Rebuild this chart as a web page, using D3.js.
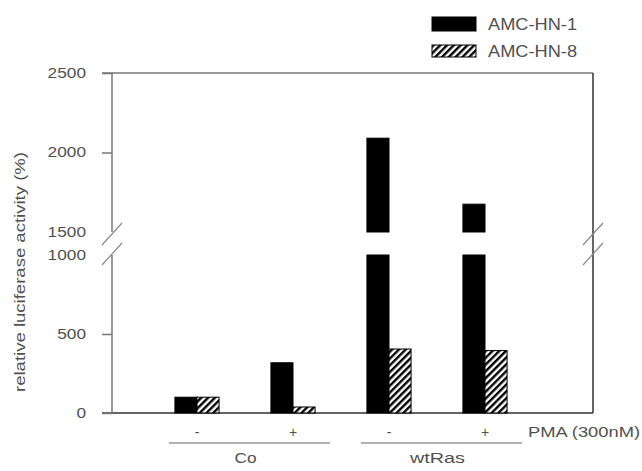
<!DOCTYPE html>
<html>
<head>
<meta charset="utf-8">
<script src="https://cdn.jsdelivr.net/npm/d3@7"></script>
<style>
  body { margin: 0; background: #fff; }
  text { font-family: "Liberation Sans", Arial, sans-serif; fill: #505050; }
</style>
</head>
<body>
<svg id="chart" width="642" height="471"></svg>
<script>
// data
var conditions = ['Co-', 'Co+', 'wtRas-', 'wtRas+'];
var pmaLabels = ['-', '+', '-', '+'];
var cellLines = ['AMC-HN-1', 'AMC-HN-8'];
var hn1Values = [100, 318, 2090, 1675];
var hn8Values = [100, 38, 405, 395];
var lowTicks = [0, 500, 1000];
var highTicks = [1500, 2000, 2500];
var groups = [
  { name: 'Co', members: ['Co-', 'Co+'] },
  { name: 'wtRas', members: ['wtRas-', 'wtRas+'] }
];

var svg = d3.select('#chart');

var plotLeft = 112, plotRight = 593, plotBottom = 413, plotTop = 73;

// broken y axis: two linear pieces
var yLow = d3.scaleLinear().domain([0, 1000]).range([plotBottom, 255]);
var yHigh = d3.scaleLinear().domain([1500, 2500]).range([232, plotTop]);

var x = d3.scaleBand()
  .domain(conditions)
  .range([149, 533])
  .paddingInner(0.54)
  .paddingOuter(0.27);

var xSub = d3.scaleBand()
  .domain(cellLines)
  .range([0, x.bandwidth()]);

// hatch pattern for AMC-HN-8
var defs = svg.append('defs');
defs.append('pattern')
  .attr('id', 'hatch')
  .attr('patternUnits', 'userSpaceOnUse')
  .attr('width', 4.8)
  .attr('height', 4.8)
  .attr('patternTransform', 'rotate(45)')
  .call(function (p) {
    p.append('rect').attr('width', 4.8).attr('height', 4.8).attr('fill', '#fff');
    p.append('rect').attr('width', 2.4).attr('height', 4.8).attr('fill', '#000');
  });

// frame
svg.append('line')
  .attr('x1', plotLeft - 10).attr('x2', plotRight)
  .attr('y1', plotTop).attr('y2', plotTop)
  .attr('stroke', '#777').attr('stroke-width', 1.5);
svg.append('line')
  .attr('x1', plotRight).attr('x2', plotRight)
  .attr('y1', plotTop).attr('y2', plotBottom)
  .attr('stroke', '#333').attr('stroke-width', 1.5);
svg.append('line')
  .attr('x1', plotLeft - 10).attr('x2', plotRight)
  .attr('y1', plotBottom).attr('y2', plotBottom)
  .attr('stroke', '#333').attr('stroke-width', 1.5);

// left axis line, broken between the two pieces
svg.append('line')
  .attr('x1', plotLeft).attr('x2', plotLeft)
  .attr('y1', plotTop).attr('y2', yHigh(1500))
  .attr('stroke', '#777').attr('stroke-width', 1.5);
svg.append('line')
  .attr('x1', plotLeft).attr('x2', plotLeft)
  .attr('y1', yLow(1000)).attr('y2', plotBottom)
  .attr('stroke', '#777').attr('stroke-width', 1.5);

function styleAxis(g, hideTick) {
  g.select('.domain').remove();
  g.selectAll('.tick line')
    .attr('stroke', '#777').attr('stroke-width', 1.5)
    .filter(function (d) { return d === hideTick; }).remove();
  g.selectAll('.tick text')
    .style('font-family', '"Liberation Sans", Arial, sans-serif')
    .style('font-size', '14px')
    .attr('fill', '#505050')
    .attr('textLength', function (d) { return String(d).length * 9.6; })
    .attr('lengthAdjust', 'spacingAndGlyphs');
}

svg.append('g')
  .attr('transform', 'translate(' + plotLeft + ',0)')
  .call(d3.axisLeft(yLow).tickValues(lowTicks).tickSize(10).tickPadding(16).tickFormat(d3.format('d')))
  .call(styleAxis, 1000);

svg.append('g')
  .attr('transform', 'translate(' + plotLeft + ',0)')
  .call(d3.axisLeft(yHigh).tickValues(highTicks).tickSize(10).tickPadding(16).tickFormat(d3.format('d')))
  .call(styleAxis, 1500);

// break marks on both vertical sides
[plotLeft, plotRight].forEach(function (bx) {
  [yHigh(1500) + 2, yLow(1000) - 1].forEach(function (by) {
    svg.append('line')
      .attr('x1', bx - 10).attr('y1', by + 11)
      .attr('x2', bx + 10).attr('y2', by - 11)
      .attr('stroke', '#888').attr('stroke-width', 1.2);
  });
});

// bars
var barData = [];
conditions.forEach(function (c, i) {
  barData.push({ cond: c, line: cellLines[0], value: hn1Values[i] });
  barData.push({ cond: c, line: cellLines[1], value: hn8Values[i] });
});

var segments = [];
barData.forEach(function (d) {
  if (d.value <= 1000) {
    segments.push({ d: d, y0: yLow(0), y1: yLow(d.value) });
  } else {
    segments.push({ d: d, y0: yLow(0), y1: yLow(1000) });
    segments.push({ d: d, y0: yHigh(1500), y1: yHigh(d.value) });
  }
});

svg.append('g').selectAll('rect')
  .data(segments)
  .join('rect')
  .attr('x', function (s) { return x(s.d.cond) + xSub(s.d.line); })
  .attr('width', xSub.bandwidth())
  .attr('y', function (s) { return s.y1; })
  .attr('height', function (s) { return s.y0 - s.y1; })
  .attr('fill', function (s) { return s.d.line === cellLines[0] ? '#000' : 'url(#hatch)'; })
  .attr('stroke', '#000')
  .attr('stroke-width', 1);

// PMA row
svg.append('g').selectAll('text')
  .data(conditions)
  .join('text')
  .attr('x', function (c) { return x(c) + x.bandwidth() / 2; })
  .attr('y', 437)
  .attr('text-anchor', 'middle')
  .style('font-size', '14px')
  .text(function (c, i) { return pmaLabels[i]; });

svg.append('text')
  .attr('x', 528).attr('y', 437)
  .style('font-size', '14px')
  .attr('textLength', 112)
  .attr('lengthAdjust', 'spacingAndGlyphs')
  .text('PMA (300nM)');

// group lines and names
groups.forEach(function (g) {
  var x0 = x(g.members[0]) - 6;
  var x1 = x(g.members[1]) + x.bandwidth() + 15;
  svg.append('line')
    .attr('x1', x0).attr('x2', x1)
    .attr('y1', 443).attr('y2', 443)
    .attr('stroke', '#666').attr('stroke-width', 1.2);
  svg.append('text')
    .attr('x', (x0 + x1) / 2 - 4).attr('y', 463)
    .attr('text-anchor', 'middle')
    .style('font-size', '15px')
    .attr('textLength', g.name.length * 11)
    .attr('lengthAdjust', 'spacingAndGlyphs')
    .text(g.name);
});

// y axis title
svg.append('text')
  .attr('transform', 'translate(25,272) rotate(-90)')
  .attr('text-anchor', 'middle')
  .style('font-size', '14px')
  .attr('textLength', 240)
  .attr('lengthAdjust', 'spacingAndGlyphs')
  .text('relative luciferase activity (%)');

// legend
var legend = svg.append('g').selectAll('g')
  .data(cellLines)
  .join('g')
  .attr('transform', function (d, i) { return 'translate(432,' + (17 + i * 28) + ')'; });

legend.append('rect')
  .attr('width', 44)
  .attr('height', function (d, i) { return i === 0 ? 14 : 12; })
  .attr('fill', function (d, i) { return i === 0 ? '#000' : 'url(#hatch)'; })
  .attr('stroke', '#000');

legend.append('text')
  .attr('x', 56)
  .attr('y', function (d, i) { return i === 0 ? 13 : 12; })
  .style('font-size', '16px')
  .attr('textLength', 89)
  .attr('lengthAdjust', 'spacingAndGlyphs')
  .text(function (d) { return d; });
</script>
</body>
</html>
